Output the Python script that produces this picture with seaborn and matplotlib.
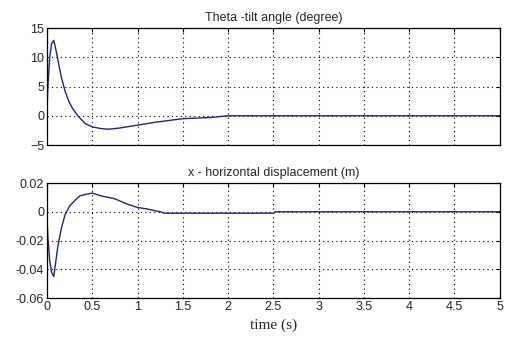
import numpy as np
import pandas as pd
import matplotlib
matplotlib.use("Agg")
import matplotlib.pyplot as plt
import seaborn as sns

# Data
theta_t = [0, 0.01, 0.03, 0.05, 0.075, 0.1, 0.13, 0.16, 0.2, 0.24, 0.28, 0.34, 0.42, 0.5, 0.6, 0.68, 0.8, 1.0, 1.2, 1.5, 1.8, 2.0, 5.0]
theta_v = [1.0, 5, 10, 12.3, 12.9, 11.2, 8.8, 6.5, 4.2, 2.5, 1.3, 0, -1.3, -1.9, -2.2, -2.3, -2.1, -1.6, -1.1, -0.5, -0.3, 0, 0]

x_t = [0, 0.01, 0.03, 0.05, 0.075, 0.09, 0.12, 0.16, 0.2, 0.25, 0.31, 0.36, 0.42, 0.5, 0.6, 0.75, 0.9, 1.0, 1.1, 1.25, 1.3, 2.5, 2.52, 5.0]
x_v = [-0.004, -0.018, -0.034, -0.042, -0.045, -0.038, -0.024, -0.011, -0.002, 0.004, 0.008, 0.011, 0.012, 0.013, 0.011, 0.009, 0.005, 0.003, 0.002, 0.0, -0.001, -0.001, 0, 0]

xticks = [0, 0.5, 1, 1.5, 2, 2.5, 3, 3.5, 4, 4.5, 5]
xticklabels = ["0", "0.5", "1", "1.5", "2", "2.5", "3", "3.5", "4", "4.5", "5"]
theta_yticks = [-5, 0, 5, 10, 15]
x_yticks = [-0.06, -0.04, -0.02, 0, 0.02]
x_yticklabels = ["-0.06", "-0.04", "-0.02", "0", "0.02"]

sns.set_style("white")
plt.rcParams['font.family'] = ['Liberation Sans', 'DejaVu Sans']

fig = plt.figure(figsize=(5.07, 3.45), dpi=100)
ax1 = fig.add_axes([0.0927, 0.5797, 0.893, 0.339])
ax2 = fig.add_axes([0.0927, 0.1362, 0.893, 0.3333])

line_color = "#22227a"
df1 = pd.DataFrame({"t": theta_t, "v": theta_v})
df2 = pd.DataFrame({"t": x_t, "v": x_v})
sns.lineplot(data=df1, x="t", y="v", ax=ax1, color=line_color, linewidth=1.0)
sns.lineplot(data=df2, x="t", y="v", ax=ax2, color=line_color, linewidth=1.0)

for ax in (ax1, ax2):
    ax.set_xlim(0, 5)
    ax.set_xticks(xticks)
    ax.grid(True, color="black", linestyle=(0, (1, 3)), linewidth=0.8)
    ax.tick_params(direction="in", length=3, color="black", labelsize=9, pad=2, top=True, right=True)
    for s in ax.spines.values():
        s.set_color("black")
        s.set_linewidth(0.9)
    ax.set_xlabel("")
    ax.set_ylabel("")

ax1.set_ylim(-5, 15)
ax1.set_yticks(theta_yticks)
ax1.set_xticklabels([])
ax1.set_title("Theta -tilt angle (degree)", fontsize=9, pad=5)

ax2.set_ylim(-0.06, 0.02)
ax2.set_yticks(x_yticks)
ax2.set_yticklabels(x_yticklabels)
ax2.set_xticklabels(xticklabels)
ax2.set_title("x - horizontal displacement (m)", fontsize=9, pad=5)
ax2.set_xlabel("time (s)", fontsize=11, family=["Liberation Serif", "DejaVu Serif"], labelpad=4)

fig.savefig("out.png", dpi=100)
